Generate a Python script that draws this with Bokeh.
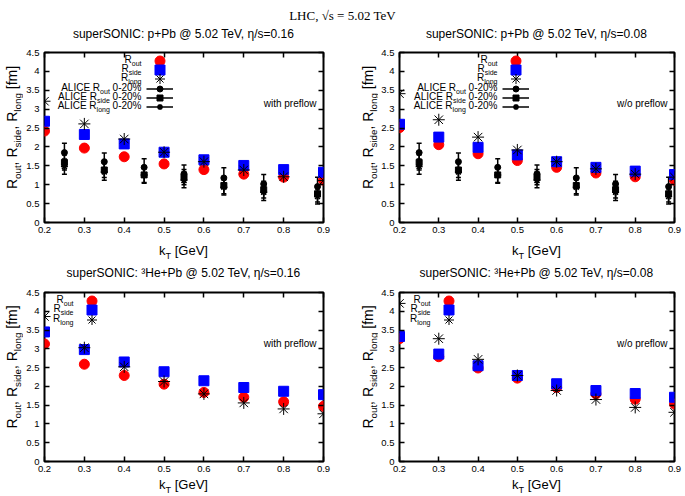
import numpy as np
from bokeh.plotting import figure
from bokeh.models import (Range1d, FixedTicker, LinearAxis, Label, Legend, LegendItem,
                          CustomJSTickFormatter)
from bokeh.layouts import column, row
from bokeh.embed import file_html
from bokeh.resources import INLINE
from bokeh.core.properties import value

# ---------------- data ----------------
kt = [0.2, 0.3, 0.4, 0.5, 0.6, 0.7, 0.8, 0.9]
x_ticks = [0.2, 0.3, 0.4, 0.5, 0.6, 0.7, 0.8, 0.9]
y_ticks = [0, 0.5, 1, 1.5, 2, 2.5, 3, 3.5, 4, 4.5]

# superSONIC p+Pb, eta/s=0.16, with preflow
ppb016_out = [2.42, 1.97, 1.74, 1.55, 1.40, 1.28, 1.20, 1.12]
ppb016_side = [2.68, 2.33, 2.08, 1.86, 1.66, 1.51, 1.40, 1.33]
ppb016_long = [3.21, 2.61, 2.21, 1.86, 1.61, 1.39, 1.21, 1.11]
# superSONIC p+Pb, eta/s=0.08, w/o preflow
ppb008_out = [2.51, 2.06, 1.82, 1.64, 1.46, 1.31, 1.21, 1.12]
ppb008_side = [2.60, 2.26, 1.99, 1.79, 1.61, 1.46, 1.36, 1.27]
ppb008_long = [3.41, 2.72, 2.26, 1.92, 1.61, 1.42, 1.28, 1.20]
# superSONIC 3He+Pb, eta/s=0.16, with preflow
hepb016_out = [3.13, 2.59, 2.29, 2.06, 1.84, 1.71, 1.59, 1.47]
hepb016_side = [3.45, 2.98, 2.65, 2.39, 2.15, 1.97, 1.87, 1.78]
hepb016_long = [3.86, 3.03, 2.52, 2.13, 1.80, 1.56, 1.40, 1.27]
# superSONIC 3He+Pb, eta/s=0.08, w/o preflow
hepb008_out = [3.27, 2.79, 2.49, 2.22, 1.97, 1.80, 1.66, 1.53]
hepb008_side = [3.33, 2.86, 2.55, 2.29, 2.07, 1.89, 1.81, 1.71]
hepb008_long = [4.21, 3.27, 2.72, 2.29, 1.89, 1.65, 1.44, 1.31]

# ALICE p-Pb 0-20%
alice_kt = [0.25, 0.35, 0.45, 0.55, 0.65, 0.75, 0.885]
alice_out = [1.85, 1.61, 1.46, 1.29, 1.18, 1.02, 0.95]
alice_out_err = [0.25, 0.23, 0.23, 0.23, 0.27, 0.25, 0.25]
alice_side = [1.59, 1.39, 1.26, 1.20, 0.98, 0.87, 0.76]
alice_side_err = [0.20, 0.20, 0.22, 0.20, 0.22, 0.22, 0.22]
alice_long = [1.48, 1.34, 1.26, 1.12, 0.93, 0.80, 0.69]
alice_long_err = [0.20, 0.22, 0.20, 0.20, 0.20, 0.22, 0.20]

title_text = "LHC, \u221as = 5.02 TeV"
subtitles = ["superSONIC: p+Pb @ 5.02 TeV, \u03b7/s=0.16",
             "superSONIC: p+Pb @ 5.02 TeV, \u03b7/s=0.08",
             "superSONIC: \u00b3He+Pb @ 5.02 TeV, \u03b7/s=0.16",
             "superSONIC: \u00b3He+Pb @ 5.02 TeV, \u03b7/s=0.08"]
notes = ["with preflow", "w/o preflow", "with preflow", "w/o preflow"]

# ---------------- text helpers ----------------
FONT = "Liberation Sans"
AW = {'R': 722, 'o': 556, 'u': 556, 't': 278, ',': 278, ' ': 278, 's': 500, 'i': 222,
      'd': 556, 'e': 556, 'l': 222, 'n': 556, 'g': 556, '[': 278, 'f': 278, 'm': 833,
      ']': 278, 'k': 500, 'T': 611, 'G': 778, 'V': 667, 'A': 667, 'L': 556, 'I': 278,
      'C': 722, 'E': 667, '-': 333, '%': 889}
SUB = 0.7


def tw(s, fs):
    return sum(AW.get(c, 556) for c in s) * fs / 1000.0


def rich(p, parts, x, y, fs, align="left", vertical=False):
    """Compose text with subscripts; (x, y) = middle line of the main text."""
    sfs = fs * SUB
    ws = [tw(t, sfs if sub else fs) for t, sub in parts]
    total = sum(ws)
    pos = {"left": 0.0, "center": -total / 2, "right": -total}[align]
    for (t, sub), w in zip(parts, ws):
        size = sfs if sub else fs
        core = t.strip()
        lead = len(t) - len(t.lstrip())
        c = pos + tw(" " * lead, size) + tw(core, size) / 2
        drop = 0.4 * fs if sub else 0.0
        if vertical:
            lx, ly, ang = x + drop, y + c, np.pi / 2
        else:
            lx, ly, ang = x + c, y - drop, 0.0
        p.add_layout(Label(x=lx, y=ly, x_units="screen", y_units="screen", text=core,
                           angle=ang, text_font=FONT, text_font_size=f"{size:.1f}px",
                           text_align="center", text_baseline="middle",
                           text_color="black"))
        pos += w


def plain(p, text, x, y, fs, align="center", font=FONT):
    p.add_layout(Label(x=x, y=y, x_units="screen", y_units="screen", text=text,
                       text_font=font, text_font_size=f"{fs}px", text_align=align,
                       text_baseline="middle", text_color="black"))


def strip(width, height):
    s = figure(width=width, height=height, x_range=Range1d(0, 1), y_range=Range1d(0, 1),
               x_axis_location=None, y_axis_location=None, toolbar_location=None,
               output_backend="svg", title_location=None, min_border=0,
               outline_line_color=None)
    s.grid.visible = False
    return s


def mirror_axis(ticks):
    return LinearAxis(ticker=FixedTicker(ticks=ticks),
                      formatter=CustomJSTickFormatter(code="return ''"),
                      major_label_text_font_size="1px", major_label_standoff=0,
                      major_tick_in=5, major_tick_out=0, major_tick_line_width=1.5,
                      major_tick_line_color="black", minor_tick_line_color=None,
                      axis_line_color=None)


def key(p, renderers, cx, cy, gw, gh):
    p.add_layout(Legend(items=[LegendItem(label=value(" "), renderers=renderers)],
                        location=(cx - gw / 2, cy - gh / 2), glyph_width=gw, glyph_height=gh,
                        label_height=gh, label_width=0, label_standoff=0, padding=0,
                        margin=0, spacing=0, border_line_color=None,
                        background_fill_alpha=0, label_text_font_size="6px"))


def panel(width, height, bl, br, bt, bb, note, out, side, long_, with_alice, leg_x, leg_rows,
          note_y):
    fw = width - bl - br
    p = figure(width=width, height=height, x_range=Range1d(0.2, 0.9), y_range=Range1d(0, 4.5),
               toolbar_location=None, output_backend="svg", title_location=None,
               min_border_left=bl, min_border_right=br, min_border_top=bt,
               min_border_bottom=bb)
    p.grid.visible = False
    p.outline_line_color = "black"
    p.outline_line_width = 2
    for ax in (p.xaxis[0], p.yaxis[0]):
        ax.major_tick_in = 5
        ax.major_tick_out = 0
        ax.major_tick_line_width = 1.5
        ax.major_tick_line_color = "black"
        ax.minor_tick_line_color = None
        ax.axis_line_color = None
        ax.major_label_text_font = FONT
        ax.major_label_text_font_size = "9.5px"
        ax.major_label_text_color = "black"
    p.xaxis[0].ticker = FixedTicker(ticks=x_ticks)
    p.xaxis[0].major_label_standoff = 4
    p.yaxis[0].ticker = FixedTicker(ticks=y_ticks)
    p.yaxis[0].major_label_standoff = 5
    p.yaxis[0].formatter = CustomJSTickFormatter(code="return String(Math.round(tick*10)/10)")
    p.add_layout(mirror_axis(x_ticks), "above")
    p.add_layout(mirror_axis(y_ticks), "right")

    texts = [[("R", 0), ("out", 1)], [("R", 0), ("side", 1)], [("R", 0), ("long", 1)]]
    if with_alice:
        for i, (vals, errs, marker, size) in enumerate([(alice_out, alice_out_err, "circle", 6),
                                                        (alice_side, alice_side_err, "square", 6),
                                                        (alice_long, alice_long_err, "asterisk", 7)]):
            lo = [v - e for v, e in zip(vals, errs)]
            hi = [v + e for v, e in zip(vals, errs)]
            seg = p.segment(x0=alice_kt, y0=lo, x1=alice_kt, y1=hi,
                            line_color="black", line_width=1.5)
            p.scatter(x=alice_kt + alice_kt, y=lo + hi, marker="dash", size=5,
                      line_color="black", line_width=1.5)
            if marker == "asterisk":
                pts = p.scatter(x=alice_kt, y=vals, marker=marker, size=size,
                                line_color="black", line_width=1.5)
            else:
                pts = p.scatter(x=alice_kt, y=vals, marker=marker, size=size,
                                fill_color="black", line_color="black")
            key(p, [seg, pts], leg_x, leg_rows[3 + i], 27, 15)
        texts += [[("ALICE R", 0), ("out", 1), (" 0-20%", 0)],
                  [("ALICE R", 0), ("side", 1), (" 0-20%", 0)],
                  [("ALICE R", 0), ("long", 1), (" 0-20%", 0)]]

    r_out = p.scatter(x=kt, y=out, marker="circle", size=10, fill_color="#ff0000",
                      line_color="#ff0000")
    r_side = p.scatter(x=kt, y=side, marker="square", size=10, fill_color="#0000ff",
                       line_color="#0000ff")
    r_long = p.scatter(x=kt, y=long_, marker="asterisk", size=12, line_color="black",
                       line_width=1)
    for i, r in enumerate((r_out, r_side, r_long)):
        key(p, [r], leg_x, leg_rows[i], 25, 25)

    for parts, ry in zip(texts, leg_rows):
        rich(p, parts, leg_x - 18, ry + 1, 10, align="right")
    plain(p, note, fw - 8, note_y, 10, align="right")
    return p


top_rows = [162, 153, 144, 134, 125, 116]
bot_rows = [161, 152, 142]

# page geometry (pixels)
WL, WR = 23, 28            # y-label strip widths
MW_L, MW_R = 327, 306      # main figure widths
H_TOP = 194                # top main figure height
H_BOT = 193                # bottom main figure height
S0, S1, S2 = 44, 46, 18    # horizontal strips
TOTAL_W = WL + MW_L + WR + MW_R

p1 = panel(MW_L, H_TOP, 20, 27, 8, 16, notes[0], ppb016_out, ppb016_side, ppb016_long,
           True, 115, top_rows, 119)
p2 = panel(MW_R, H_TOP, 20, 10, 8, 16, notes[1], ppb008_out, ppb008_side, ppb008_long,
           True, 116, top_rows, 119)
p3 = panel(MW_L, H_BOT, 20, 27, 8, 16, notes[2], hepb016_out, hepb016_side, hepb016_long,
           False, 47, bot_rows, 118)
p4 = panel(MW_R, H_BOT, 20, 10, 8, 16, notes[3], hepb008_out, hepb008_side, hepb008_long,
           False, 49, bot_rows, 118)

# frame centres in page x
cx_left = WL + 20 + 140
cx_right = WL + MW_L + WR + 20 + 138

s0 = strip(TOTAL_W, S0)
plain(s0, title_text, TOTAL_W / 2, S0 - 15, 13, font="Liberation Serif")
plain(s0, subtitles[0], cx_left, S0 - 33, 12)
plain(s0, subtitles[1], cx_right, S0 - 33, 12)

s1 = strip(TOTAL_W, S1)
for cx in (cx_left, cx_right):
    rich(s1, [("k", 0), ("T", 1), (" [GeV]", 0)], cx, S1 - 12, 13, align="center")
plain(s1, subtitles[2], cx_left, S1 - 34, 12)
plain(s1, subtitles[3], cx_right, S1 - 34, 12)

s2 = strip(TOTAL_W, S2)
for cx in (cx_left, cx_right):
    rich(s2, [("k", 0), ("T", 1), (" [GeV]", 0)], cx, S2 - 7, 13, align="center")

ylab_parts = [("R", 0), ("out", 1), (", R", 0), ("side", 1), (", R", 0), ("long", 1), (" [fm]", 0)]


def ylab(width, height, cx, cy):
    s = strip(width, height)
    rich(s, ylab_parts, cx, cy, 14, align="center", vertical=True)
    return s


YSHIFT = 13
y1 = ylab(WL, H_TOP, 11, H_TOP - (130 - S0) - YSHIFT)
y2 = ylab(WR, H_TOP, 17, H_TOP - (130 - S0) - YSHIFT)
y3 = ylab(WL, H_BOT, 11, H_BOT - (369.5 - S0 - H_TOP - S1) - YSHIFT)
y4 = ylab(WR, H_BOT, 17, H_BOT - (369.5 - S0 - H_TOP - S1) - YSHIFT)

layout = column(s0, row(y1, p1, y2, p2), s1, row(y3, p3, y4, p4), s2)
open("out.html", "w").write(file_html(layout, INLINE))
